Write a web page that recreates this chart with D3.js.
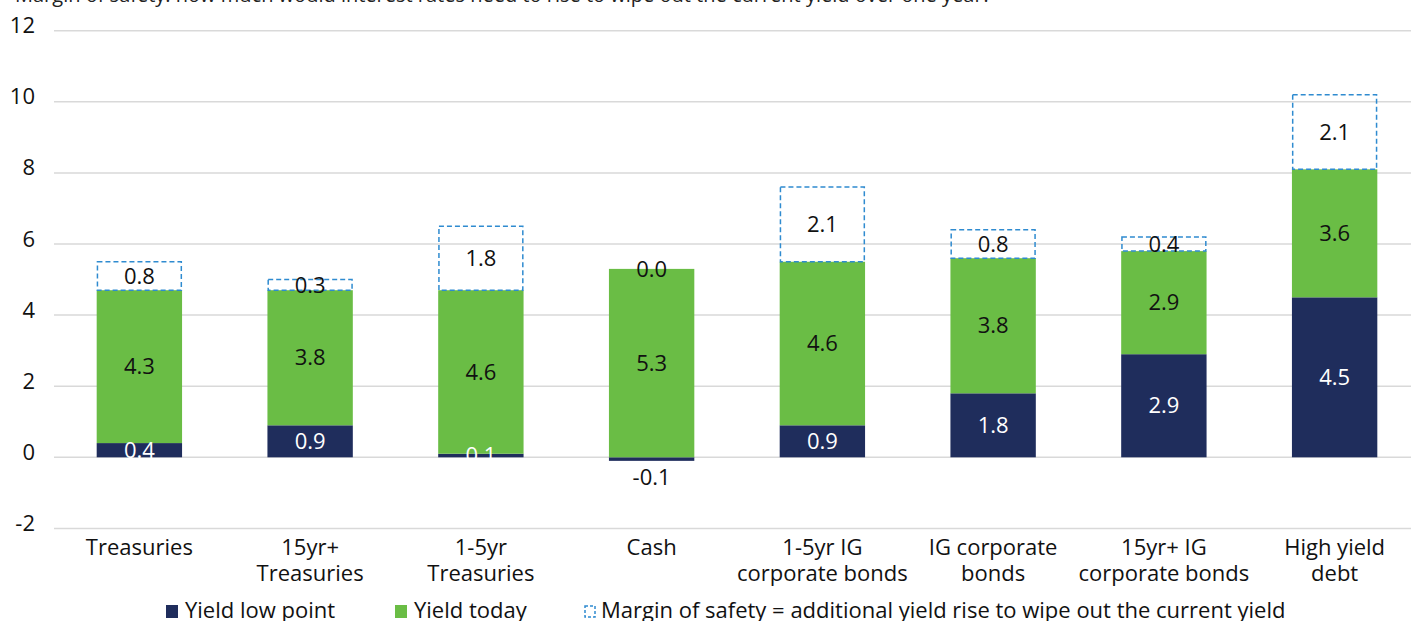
<!DOCTYPE html>
<html>
<head>
<meta charset="utf-8">
<script src="https://cdn.jsdelivr.net/npm/d3@7"></script>
<style>
  html, body { margin: 0; padding: 0; background: #fff; }
  svg { display: block; font-family: "Open Sans", "Noto Sans", sans-serif; }
</style>
</head>
<body>
<svg id="chart" width="1411" height="621"></svg>
<script>
// Asset classes along the x axis (line breaks split with "\n")
const categories = [
  "Treasuries",
  "15yr+\nTreasuries",
  "1-5yr\nTreasuries",
  "Cash",
  "1-5yr IG\ncorporate bonds",
  "IG corporate\nbonds",
  "15yr+ IG\ncorporate bonds",
  "High yield\ndebt"
];
// Yield at its low point (%)
const yieldLow = [0.4, 0.9, 0.1, -0.1, 0.9, 1.8, 2.9, 4.5];
// Rise from the low point to today's yield (%)
const yieldToday = [4.3, 3.8, 4.6, 5.3, 4.6, 3.8, 2.9, 3.6];
// Further rise in yields that would wipe out the current yield (%)
const marginOfSafety = [0.8, 0.3, 1.8, 0.0, 2.1, 0.8, 0.4, 2.1];
// Y axis ticks
const yTicks = [-2, 0, 2, 4, 6, 8, 10, 12];

const titleText = "Margin of safety: how much would interest rates need to rise to wipe out the current yield over one year?";

const navy = "#1f2d5c";
const green = "#6abd45";
const dashBlue = "#2f8bd0";
const FS = 22;

const svg = d3.select("#chart");

const x = d3.scaleBand()
  .domain(categories)
  .range([54, 1420])
  .paddingInner(0.5)
  .paddingOuter(0.25);

const y = d3.scaleLinear()
  .domain([-2, 12])
  .range([528.4, 30.7]);

// Title (sits at the very top edge)
svg.append("text")
  .attr("x", 15)
  .attr("y", 2)
  .attr("font-size", 20)
  .attr("fill", "#222")
  .text(titleText);

// Gridlines
svg.append("g")
  .selectAll("line")
  .data(yTicks)
  .join("line")
  .attr("x1", 54)
  .attr("x2", 1411)
  .attr("y1", d => y(d))
  .attr("y2", d => y(d))
  .attr("stroke", "#d9d9d9")
  .attr("stroke-width", 1.5);

// Y axis labels
const yAxis = d3.axisLeft(y)
  .tickValues(yTicks)
  .tickFormat(d => String(d))
  .tickSize(0)
  .tickPadding(0);
const yg = svg.append("g")
  .attr("transform", "translate(35,-5)")
  .call(yAxis);
yg.select(".domain").remove();
yg.selectAll("text")
  .attr("font-size", FS)
  .attr("font-family", "'Open Sans', 'Noto Sans', sans-serif")
  .attr("fill", "#111");

// Stack segments
const rows = categories.map((c, i) => {
  const low = yieldLow[i];
  const base = Math.max(low, 0);
  const top = base + yieldToday[i];
  return {
    cat: c,
    low: low,
    today: yieldToday[i],
    margin: marginOfSafety[i],
    lowY0: Math.min(0, low), lowY1: Math.max(0, low),
    todayY0: base, todayY1: top,
    marginY0: top, marginY1: top + marginOfSafety[i]
  };
});

const bw = x.bandwidth();
const bars = svg.append("g");

// Yield low point
bars.selectAll("rect.low")
  .data(rows)
  .join("rect")
  .attr("class", "low")
  .attr("x", d => x(d.cat))
  .attr("width", bw)
  .attr("y", d => y(d.lowY1))
  .attr("height", d => y(d.lowY0) - y(d.lowY1))
  .attr("fill", navy);

// Yield today
bars.selectAll("rect.today")
  .data(rows)
  .join("rect")
  .attr("class", "today")
  .attr("x", d => x(d.cat))
  .attr("width", bw)
  .attr("y", d => y(d.todayY1))
  .attr("height", d => y(d.todayY0) - y(d.todayY1))
  .attr("fill", green);

// Margin of safety (dashed outline)
bars.selectAll("rect.margin")
  .data(rows.filter(d => d.margin > 0))
  .join("rect")
  .attr("class", "margin")
  .attr("x", d => x(d.cat) + 0.75)
  .attr("width", bw - 1.5)
  .attr("y", d => y(d.marginY1))
  .attr("height", d => y(d.marginY0) - y(d.marginY1))
  .attr("fill", "none")
  .attr("stroke", dashBlue)
  .attr("stroke-width", 1.5)
  .attr("stroke-dasharray", "5,3");

// Value labels
const labels = svg.append("g")
  .attr("font-size", FS)
  .attr("text-anchor", "middle");

labels.selectAll("text.low")
  .data(rows)
  .join("text")
  .attr("class", "low")
  .attr("x", d => x(d.cat) + bw / 2)
  .attr("y", d => d.low < 0 ? y(d.lowY0) + 24 : y((d.lowY0 + d.lowY1) / 2))
  .attr("dy", d => d.low < 0 ? 0 : "0.35em")
  .attr("fill", d => d.low < 0 ? "#111" : "#fff")
  .text(d => d.low.toFixed(1));

labels.selectAll("text.today")
  .data(rows)
  .join("text")
  .attr("class", "today")
  .attr("x", d => x(d.cat) + bw / 2)
  .attr("y", d => y((d.todayY0 + d.todayY1) / 2))
  .attr("dy", "0.35em")
  .attr("fill", "#111")
  .text(d => d.today.toFixed(1));

labels.selectAll("text.margin")
  .data(rows)
  .join("text")
  .attr("class", "margin")
  .attr("x", d => x(d.cat) + bw / 2)
  .attr("y", d => y((d.marginY0 + d.marginY1) / 2))
  .attr("dy", "0.35em")
  .attr("fill", "#111")
  .text(d => d.margin.toFixed(1));

// Category labels
const xg = svg.append("g")
  .attr("font-size", FS)
  .attr("text-anchor", "middle")
  .attr("fill", "#111");
xg.selectAll("text")
  .data(categories)
  .join("text")
  .attr("x", d => x(d) + bw / 2)
  .attr("y", 555)
  .each(function(d) {
    const t = d3.select(this);
    d.split("\n").forEach((line, i) => {
      t.append("tspan")
        .attr("x", x(d) + bw / 2)
        .attr("dy", i === 0 ? 0 : 26)
        .text(line);
    });
  });

// Legend
const legendItems = [
  { label: "Yield low point", type: "fill", color: navy, x: 166 },
  { label: "Yield today", type: "fill", color: green, x: 395 },
  { label: "Margin of safety = additional yield rise to wipe out the current yield", type: "dash", color: dashBlue, x: 584 }
];
const lg = svg.append("g").attr("font-size", FS).attr("fill", "#111");
const li = lg.selectAll("g").data(legendItems).join("g")
  .attr("transform", d => `translate(${d.x},605)`);
li.filter(d => d.type === "fill").append("rect")
  .attr("width", 12).attr("height", 13)
  .attr("fill", d => d.color);
li.filter(d => d.type === "dash").append("rect")
  .attr("x", 1).attr("y", 1)
  .attr("width", 10).attr("height", 11)
  .attr("fill", "none")
  .attr("stroke", d => d.color)
  .attr("stroke-width", 1.5)
  .attr("stroke-dasharray", "3,2");
li.append("text")
  .attr("x", d => d.type === "dash" ? 17 : 19)
  .attr("y", 13)
  .text(d => d.label);
</script>
</body>
</html>
